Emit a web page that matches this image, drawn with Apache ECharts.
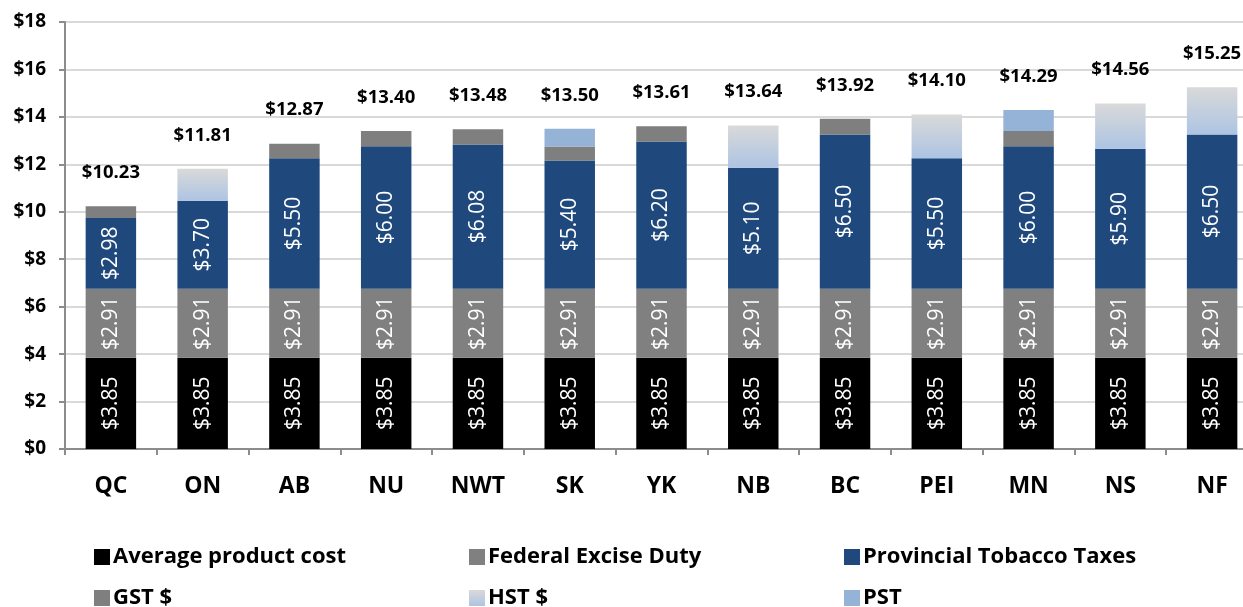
<!DOCTYPE html>
<html><head><meta charset="utf-8">
<script src="https://cdn.jsdelivr.net/npm/echarts@6/dist/echarts.min.js"></script>
<style>html,body{margin:0;padding:0;background:#fff}#c{width:1243px;height:607px}</style>
</head><body><div id="c"></div>
<script>
const categories = ['QC','ON','AB','NU','NWT','SK','YK','NB','BC','PEI','MN','NS','NF'];
const productCost = [3.85,3.85,3.85,3.85,3.85,3.85,3.85,3.85,3.85,3.85,3.85,3.85,3.85];
const federalExcise = [2.91,2.91,2.91,2.91,2.91,2.91,2.91,2.91,2.91,2.91,2.91,2.91,2.91];
const provincialTax = [2.98,3.70,5.50,6.00,6.08,5.40,6.20,5.10,6.50,5.50,6.00,5.90,6.50];
const gst = [0.49,null,0.61,0.64,0.64,0.59,0.65,null,0.66,null,0.64,null,null];
const hst = [null,1.35,null,null,null,null,null,1.78,null,1.84,null,1.90,1.99];
const pst = [null,null,null,null,null,0.75,null,null,null,null,0.89,null,null];
const totals = [10.23,11.81,12.87,13.40,13.48,13.50,13.61,13.64,13.92,14.10,14.29,14.56,15.25];
const yTicks = [0,2,4,6,8,10,12,14,16,18];

const FONT = 'Open Sans';
const chart = echarts.init(document.getElementById('c'), null, {renderer:'canvas'});
const inLabel = {
  show: true, rotate: 90, position: 'inside', color: '#fff', fontFamily: FONT,
  fontSize: 21, formatter: p => '$' + p.value.toFixed(2)
};
const hstGrad = new echarts.graphic.LinearGradient(0,0,0,1,[
  {offset:0,color:'#d9d9d9'},{offset:1,color:'#adc4e3'}]);
function mk(name, data, color, label){
  return {name, type:'bar', stack:'t', data, barWidth:'55%',
    itemStyle:{color}, label: label ? inLabel : {show:false},
    emphasis:{disabled:true}};
}
const series = [
  mk('Average product cost', productCost, '#000000', true),
  mk('Federal Excise Duty', federalExcise, '#808080', true),
  mk('Provincial Tobacco Taxes', provincialTax, '#1f497d', true),
  mk('GST $', gst, '#7f7f7f', false),
  mk('HST $', hst, hstGrad, false),
  mk('PST', pst, '#95b3d7', false),
  {name:'total', type:'bar', stack:'t', data: totals.map(()=>0), barWidth:'55%',
   itemStyle:{color:'transparent'},
   label:{show:true, position:'top', distance:24, color:'#000', fontFamily:FONT,
     fontWeight:'bold', fontSize:18.5, formatter: p => '$' + totals[p.dataIndex].toFixed(2)}}
];
const legNames = ['Average product cost','Federal Excise Duty','Provincial Tobacco Taxes','GST $','HST $','PST'];
const legPos = [[94,546],[469,546],[844,546],[94,587],[469,587],[844,587]];
const legends = legNames.map((n,i)=>({
  data:[n], left:legPos[i][0], top:legPos[i][1], itemWidth:16, itemHeight:16, itemGap:0,
  icon:'rect', selectedMode:false, padding:0,
  textStyle:{fontFamily:FONT, fontWeight:'bold', fontSize:22, color:'#000', padding:[0,0,0,-2]}
}));
chart.setOption({
  animation:false,
  grid:{left:65, top:22, height:427, width:1193, outerBoundsMode:'none', containLabel:false},
  legend: legends,
  xAxis:{type:'category', data:categories,
    axisLine:{lineStyle:{color:'#8c8c8c', width:2}},
    axisTick:{show:true, length:6, lineStyle:{color:'#8c8c8c', width:2}},
    axisLabel:{color:'#000', fontFamily:FONT, fontWeight:'bold', fontSize:23, margin:26}},
  yAxis:{type:'value', min:0, max:18, interval:2,
    axisLine:{show:true, lineStyle:{color:'#8c8c8c', width:2}},
    axisTick:{show:true, length:6, lineStyle:{color:'#8c8c8c', width:2}},
    splitLine:{lineStyle:{color:'#d9d9d9', width:2}},
    axisLabel:{color:'#000', fontFamily:FONT, fontWeight:'bold', fontSize:19, margin:19,
      formatter: v => '$' + v}},
  series
});
</script></body></html>
